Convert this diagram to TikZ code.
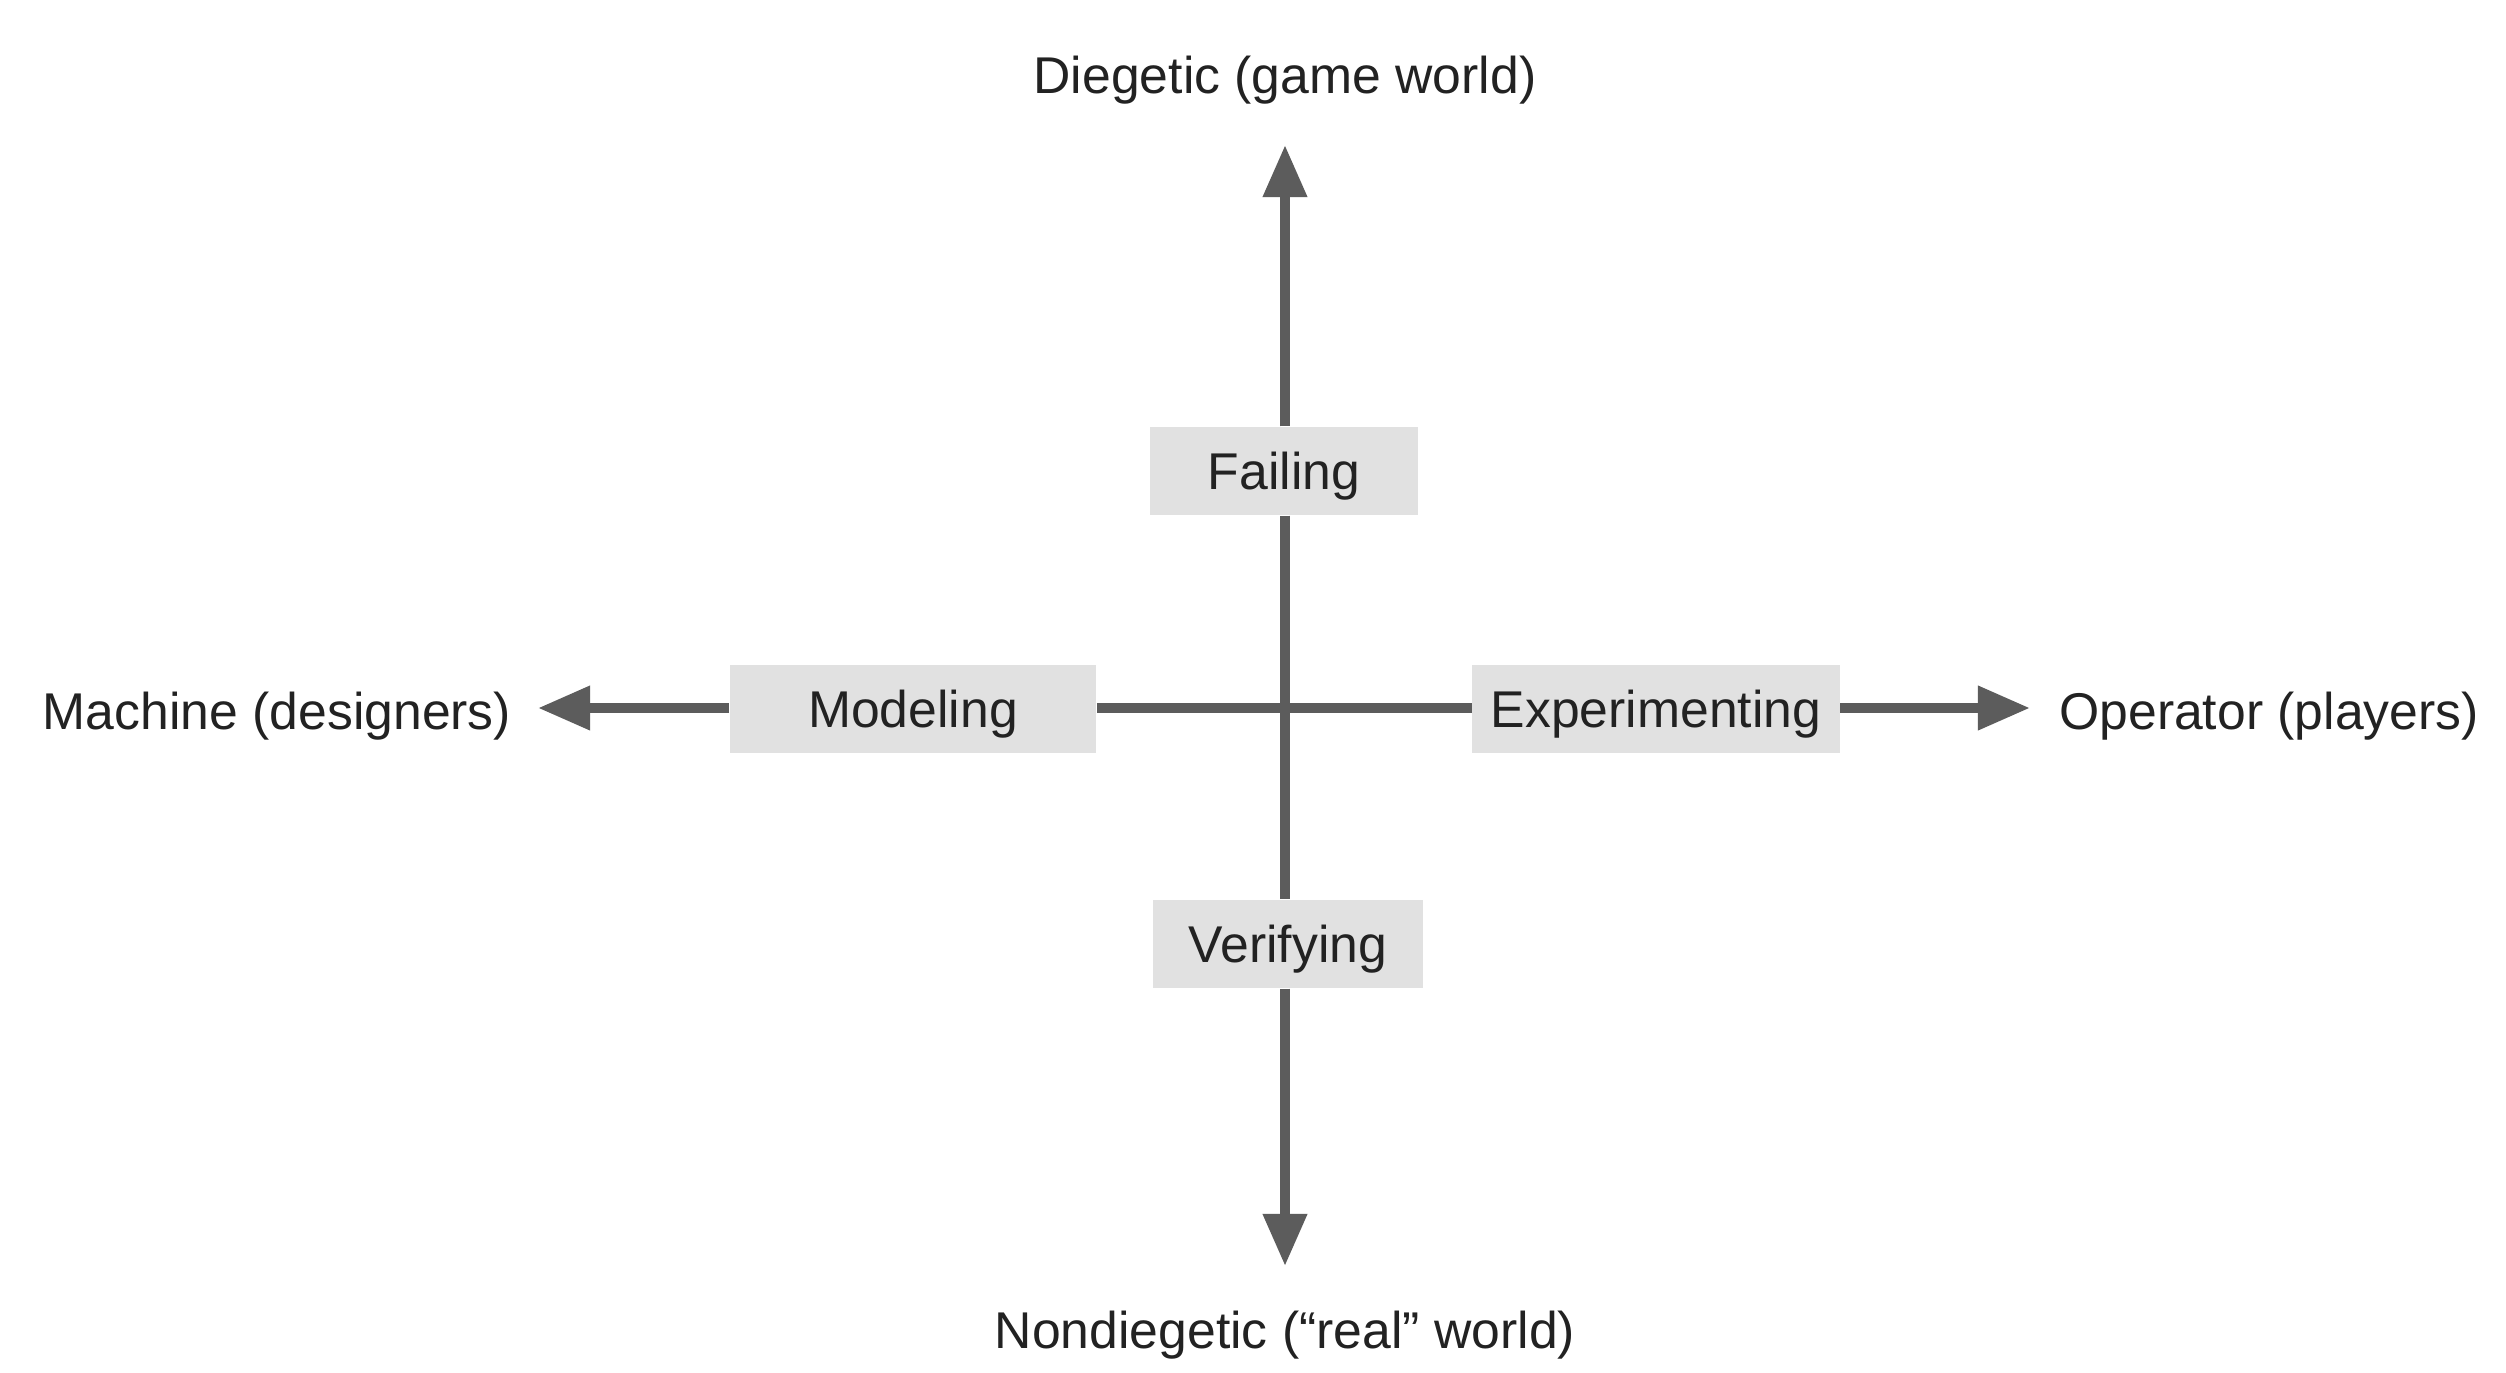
\documentclass[tikz,border=0pt]{standalone}
\usepackage{fontspec}
\setmainfont{Liberation Sans}
\usetikzlibrary{arrows.meta}
\definecolor{axisgray}{HTML}{5C5C5C}
\definecolor{boxgray}{HTML}{E1E1E1}
\definecolor{txt}{HTML}{222222}
\begin{document}
\begin{tikzpicture}[x=0.01cm,y=-0.01cm,
  lab/.style={font=\fontsize{14.7}{17.6}\selectfont,text=txt,inner sep=0pt,
    text height=10.5pt,text depth=0pt},
  stagebox/.style={lab,fill=boxgray,minimum height=0.88cm},
  axis/.style={draw=axisgray,line width=2.85pt},
  axisarrow/.style={axis,-{Triangle[length=0.52cm,width=0.42cm]}}]
\useasboundingbox[fill=white] (0,0) rectangle (2506,1373);
% stage boxes
\node[stagebox,minimum width=2.68cm] (fail) at (1284,471) {Failing};
\node[stagebox,minimum width=2.69cm] (verif) at (1288,944) {Verifying};
\node[stagebox,minimum width=3.66cm] (model) at (913,709) {Modeling};
\node[stagebox,minimum width=3.67cm] (exper) at (1656,709) {Experimenting};
% end labels
\node[lab] (dieg) at (1285,75) {Diegetic (game world)};
\node[lab] (nondieg) at (1285,1330) {Nondiegetic (“real” world)};
\node[lab] (mach) at (277,711) {Machine (designers)};
\node[lab] (oper) at (2269,711) {Operator (players)};
% arrow ends
\coordinate (topend) at (1285,145);
\coordinate (botend) at (1285,1266);
\coordinate (leftend) at (538,708);
\coordinate (rightend) at (2030,708);
% axes
\draw[axis] (fail.south -| 1285,0) -- (verif.north -| 1285,0);
\draw[axis] (model.east |- 0,708) -- (exper.west |- 0,708);
\draw[axisarrow] (fail.north -| 1285,0) -- (topend);
\draw[axisarrow] (verif.south -| 1285,0) -- (botend);
\draw[axisarrow] (model.west |- 0,708) -- (leftend);
\draw[axisarrow] (exper.east |- 0,708) -- (rightend);
\end{tikzpicture}
\end{document}
